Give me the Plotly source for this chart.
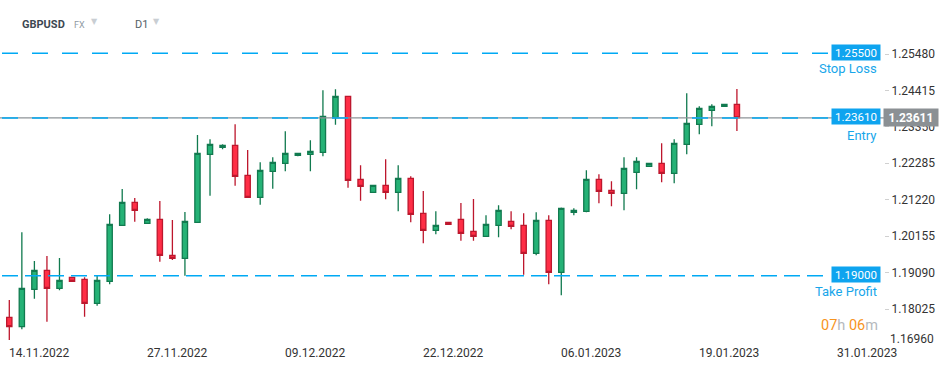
import plotly.graph_objects as go

# ---------------- data ----------------
candle_index = list(range(59))
opens = [
    1.17783, 1.17508, 1.18601, 1.19157, 1.18630, 1.18952, 1.18894, 1.18192, 1.18835, 1.20472,
    1.21145, 1.20531, 1.20648, 1.19595, 1.19508, 1.20560, 1.22548, 1.22753, 1.22811, 1.21934,
    1.21291, 1.22051, 1.22285, 1.22519, 1.22548, 1.22606, 1.23618, 1.24243, 1.21817, 1.21437,
    1.21642, 1.21437, 1.21846, 1.20823, 1.20326, 1.20560, 1.20648, 1.20297, 1.20151, 1.20472,
    1.20589, 1.20472, 1.19654, 1.20618, 1.19098, 1.20852, 1.20882, 1.21817, 1.21495, 1.21408,
    1.22022, 1.22197, 1.22285, 1.21992, 1.22840, 1.23425, 1.23834, 1.23951, 1.24010]
highs = [
    1.18288, 1.20268, 1.19429, 1.19575, 1.19516, 1.18952, 1.18952, 1.19011, 1.20794, 1.21533,
    1.21270, 1.20677, 1.21183, 1.20627, 1.20861, 1.23112, 1.22986, 1.22840, 1.23425, 1.22674,
    1.22314, 1.22460, 1.23220, 1.22577, 1.22957, 1.24419, 1.24448, 1.24260, 1.22226, 1.21642,
    1.22402, 1.22226, 1.21905, 1.21475, 1.20882, 1.20560, 1.21124, 1.21241, 1.20765, 1.21057,
    1.20882, 1.20823, 1.20852, 1.20765, 1.20990, 1.20969, 1.22080, 1.21963, 1.21758, 1.22460,
    1.22460, 1.22285, 1.22869, 1.22986, 1.24331, 1.23951, 1.24010, 1.24010, 1.24457]
lows = [
    1.17119, 1.17432, 1.18326, 1.17654, 1.18572, 1.18835, 1.17800, 1.18122, 1.18747, 1.20472,
    1.20577, 1.20531, 1.19408, 1.19458, 1.18999, 1.20560, 1.21338, 1.22694, 1.21630, 1.21291,
    1.21074, 1.21542, 1.22051, 1.22489, 1.22051, 1.22489, 1.23413, 1.21571, 1.21191, 1.21437,
    1.21232, 1.20882, 1.20560, 1.19946, 1.20209, 1.20501, 1.20022, 1.20022, 1.20151, 1.20121,
    1.20355, 1.19028, 1.19595, 1.18747, 1.18426, 1.20765, 1.20852, 1.21115, 1.21028, 1.20911,
    1.21525, 1.22197, 1.21729, 1.21700, 1.22548, 1.23132, 1.23366, 1.23951, 1.23229]
closes = [
    1.17508, 1.18630, 1.19157, 1.18630, 1.18864, 1.18835, 1.18192, 1.18864, 1.20501, 1.21145,
    1.20911, 1.20648, 1.19595, 1.19508, 1.20589, 1.22577, 1.22840, 1.22811, 1.21905, 1.21291,
    1.22080, 1.22314, 1.22577, 1.22577, 1.22636, 1.23659, 1.24243, 1.21788, 1.21612, 1.21642,
    1.21437, 1.21846, 1.20794, 1.20326, 1.20472, 1.20501, 1.20238, 1.20151, 1.20501, 1.20911,
    1.20443, 1.19654, 1.20618, 1.19098, 1.20969, 1.20911, 1.21817, 1.21466, 1.21408, 1.22139,
    1.22343, 1.22285, 1.21992, 1.22869, 1.23454, 1.23893, 1.23951, 1.24010, 1.23611]

y_tick_values = [1.25480, 1.24415, 1.23350, 1.22285, 1.21220, 1.20155, 1.19090, 1.18025, 1.16960]
date_labels = ["14.11.2022", "27.11.2022", "09.12.2022", "22.12.2022",
               "06.01.2023", "19.01.2023", "31.01.2023"]
date_label_index = [0, 11, 22, 33, 44, 55, 66]

stop_loss = 1.25500
entry = 1.23610
take_profit = 1.19000
current_price = closes[-1]

symbol = "GBPUSD"
market = "FX"
interval = "D1"
countdown_h, countdown_m = "07", "06"

# ---------------- layout geometry ----------------
W, H = 949, 370
PL, PR, PT, PB = 0, 884, 38, 346          # plot area in pixels
SPACING = 12.545                           # px per candle
FIRST_X = 9.3                              # px of candle 0
x_lo = -FIRST_X / SPACING
x_hi = x_lo + (PR - PL) / SPACING
PX_PER_UNIT = 3420.7
ref_price, ref_y = 1.25480, 54.0
y_hi = ref_price + (ref_y - PT) / PX_PER_UNIT
y_lo = ref_price - (PB - ref_y) / PX_PER_UNIT


def xp(px):
    return (px - PL) / (PR - PL)


def yp(py):
    return (PB - py) / (PB - PT)


FONT = "Roboto, Arial, sans-serif"
BLUE = "#17a6ea"
BOX_BLUE = "#0ea4ef"
DASH_BLUE = "#00a9f4"

fig = go.Figure()
fig.add_trace(go.Candlestick(
    x=candle_index, open=opens, high=highs, low=lows, close=closes,
    increasing=dict(fillcolor="#25b276", line=dict(color="#117a4f", width=1.3)),
    decreasing=dict(fillcolor="#ff2e46", line=dict(color="#bd172d", width=1.3)),
    whiskerwidth=0, hoverinfo="skip", showlegend=False,
))

shapes = []
# current price line (grey, solid)
shapes.append(dict(type="line", xref="paper", yref="y", x0=0, x1=1,
                   y0=current_price, y1=current_price,
                   line=dict(color="#8e9397", width=1.3), layer="above"))
# order lines (blue dashed)
for lvl, dash in [(stop_loss, "16px,14px"), (entry, "16px,14px"), (take_profit, "16px,7px")]:
    shapes.append(dict(type="line", xref="paper", yref="y", x0=xp(2), x1=xp(828),
                       y0=lvl, y1=lvl,
                       line=dict(color=DASH_BLUE, width=1.5, dash=dash), layer="above"))

annotations = []
# x date labels (left edge at candle)
for idx, lab in zip(date_label_index, date_labels):
    annotations.append(dict(x=idx, xref="x", y=0, yref="paper", yshift=-7,
                            xanchor="left", yanchor="middle", xshift=-2,
                            text=lab, showarrow=False,
                            font=dict(family=FONT, size=12, color="#333333")))
# lowest y tick label (pushed up like the original)
annotations.append(dict(x=1, xref="paper", xanchor="left", xshift=4,
                        y=y_tick_values[-1], yref="y", yshift=6, yanchor="middle",
                        text=f"{y_tick_values[-1]:.5f}", showarrow=False,
                        font=dict(family=FONT, size=12, color="#333333")))
# order boxes + captions
for lvl, cap, capshift in [(stop_loss, "Stop Loss", -15), (entry, "Entry", -17.5),
                           (take_profit, "Take Profit", -16)]:
    annotations.append(dict(x=xp(881), xref="paper", xanchor="right",
                            y=lvl, yref="y", yanchor="middle", yshift=1,
                            text=f"{lvl:.5f}", showarrow=False,
                            font=dict(family=FONT, size=11.5, color="white"),
                            bgcolor=BOX_BLUE, borderpad=1, width=46, height=13))
    annotations.append(dict(x=xp(879), xref="paper", xanchor="right",
                            y=lvl, yref="y", yanchor="middle", yshift=capshift,
                            text=cap, showarrow=False,
                            font=dict(family=FONT, size=13, color=BLUE)))
# current price box
annotations.append(dict(x=xp(883), xref="paper", xanchor="left",
                        y=current_price, yref="y", yanchor="middle",
                        text=f"<b>{current_price:.5f}</b>", showarrow=False,
                        font=dict(family=FONT, size=12, color="white"),
                        bgcolor="#8b9094", borderpad=2, width=50, height=13))
# countdown
annotations.append(dict(x=xp(880), xref="paper", xanchor="right",
                        y=yp(325), yref="paper", yanchor="middle",
                        text=(f"<span style='color:#f7941d'>{countdown_h}</span>"
                              f"<span style='color:#b5b9bd'>h </span>"
                              f"<span style='color:#f7941d'>{countdown_m}</span>"
                              f"<span style='color:#b5b9bd'>m</span>"),
                        showarrow=False, font=dict(family=FONT, size=14.5)))
# header
annotations += [
    dict(x=xp(20), xref="paper", xanchor="left", y=yp(24), yref="paper", yanchor="middle",
         text=f"<b>{symbol}</b>", showarrow=False,
         font=dict(family=FONT, size=11, color="#3d4852")),
    dict(x=xp(72), xref="paper", xanchor="left", y=yp(24.5), yref="paper", yanchor="middle",
         text=market, showarrow=False, font=dict(family=FONT, size=9, color="#8f9aa3")),
    dict(x=xp(89), xref="paper", xanchor="left", y=yp(22), yref="paper", yanchor="middle",
         text="▼", showarrow=False, font=dict(family="DejaVu Sans", size=8, color="#c9ced3")),
    dict(x=xp(133), xref="paper", xanchor="left", y=yp(24), yref="paper", yanchor="middle",
         text=interval, showarrow=False, font=dict(family=FONT, size=11, color="#555e66")),
    dict(x=xp(151), xref="paper", xanchor="left", y=yp(22), yref="paper", yanchor="middle",
         text="▼", showarrow=False, font=dict(family="DejaVu Sans", size=8, color="#c9ced3")),
]

fig.update_layout(
    width=W, height=H,
    margin=dict(l=PL, r=W - PR, t=PT, b=H - PB, pad=0),
    paper_bgcolor="white", plot_bgcolor="white",
    boxgap=0.4,
    showlegend=False,
    hovermode=False,
    shapes=shapes,
    annotations=annotations,
    xaxis=dict(range=[x_lo, x_hi], showticklabels=False, showgrid=False,
               zeroline=False, showline=False, ticks="",
               rangeslider=dict(visible=False), fixedrange=True),
    yaxis=dict(range=[y_lo, y_hi], side="right", showgrid=False, zeroline=False,
               showline=False, tickmode="array", tickvals=y_tick_values[:-1],
               ticktext=[f"{v:.5f}" for v in y_tick_values[:-1]],
               ticks="outside", ticklen=4, tickcolor="#d0d0d0", tickwidth=1,
               tickfont=dict(family=FONT, size=12, color="#333333"), fixedrange=True),
)

fig.write_html("out.html", config={"displayModeBar": False},
               post_script="document.body.style.margin='0';document.body.style.overflow='hidden';")
